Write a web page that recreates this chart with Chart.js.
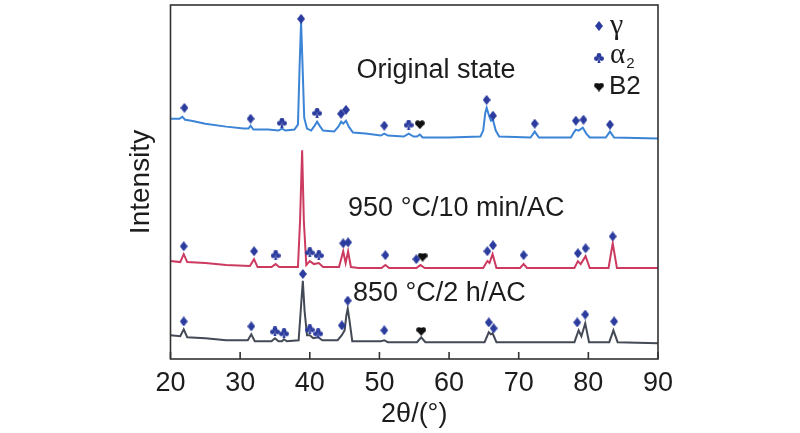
<!DOCTYPE html>
<html>
<head>
<meta charset="utf-8">
<script src="https://cdn.jsdelivr.net/npm/chart.js@4.4.1/dist/chart.umd.min.js"></script>
<style>
    html, body { margin: 0; padding: 0; background: #fff; }
    #xrd-chart { display: block; }
</style>
</head>
<body>
<canvas id="xrd-chart" width="800" height="433"></canvas>
<script>
// XRD patterns, intensity in arbitrary units (patterns already stacked)
const xTicks = [20, 30, 40, 50, 60, 70, 80, 90];

const originalTheta = [20, 21.3, 21.7, 22.1, 23, 25, 28, 30.5, 31.2, 31.5, 31.9, 34, 35.5, 36.0, 36.5, 37.8, 38.3, 38.55, 38.75, 38.95, 39.2, 39.6, 40.2, 40.7, 41.05, 41.4, 41.9, 43.5, 44.1, 44.5, 44.8, 45.2, 45.6, 46.2, 48, 50.2, 50.7, 51.2, 53.5, 54.2, 54.9, 55.4, 55.8, 56.2, 60, 64.5, 64.9, 65.2, 65.4, 65.7, 66.0, 66.3, 66.7, 67.2, 71.7, 72.3, 72.9, 77.5, 77.9, 78.2, 78.6, 79.2, 79.7, 80.2, 82.5, 83.1, 83.7, 90];
const originalIntensity = [243, 243, 245, 242, 241, 238, 235, 233, 233, 236, 232, 232, 231, 233, 231, 232, 237, 299, 341, 299, 244, 233, 231, 236, 240, 236, 231, 230, 235, 240, 238, 241, 235, 229, 228, 226, 228, 226, 225, 228, 225, 225, 227, 224, 224, 225, 231, 249, 254, 247, 241, 242, 231, 225, 224, 230, 224, 224, 229, 232, 231, 234, 228, 224, 224, 230, 224, 223];

const ac950Theta = [20, 21.4, 21.9, 22.4, 25, 28, 31.4, 32.0, 32.5, 34.5, 35.1, 35.6, 38.3, 38.6, 38.9, 39.15, 39.5, 40.0, 40.6, 41.3, 41.9, 44.2, 44.8, 45.15, 45.5, 45.9, 47, 50.3, 50.85, 51.4, 55.3, 55.9, 56.5, 64.9, 65.5, 65.8, 66.25, 66.8, 70.2, 70.7, 71.2, 78.0, 78.5, 78.9, 79.6, 80.2, 82.9, 83.5, 84.1, 90];
const ac950Intensity = [99, 98, 106, 98, 97, 95, 94, 101, 93, 93, 96, 93, 93, 139, 211, 139, 95, 99, 96, 97, 93, 93, 109, 97, 109, 93, 92, 92, 95, 92, 92, 95, 92, 92, 99, 97, 106, 92, 92, 96, 92, 92, 99, 96, 104, 92, 92, 117, 92, 92];

const ac850Theta = [20, 21.4, 21.9, 22.4, 25, 28, 31.1, 31.6, 32.1, 34.5, 35.0, 35.5, 36.0, 36.3, 36.7, 38.4, 38.7, 39.0, 39.25, 39.6, 40.0, 40.5, 41.2, 41.8, 44.0, 44.6, 45.0, 45.25, 45.45, 45.7, 46.1, 48, 50.2, 50.7, 51.2, 55.4, 56.0, 56.6, 65.1, 65.7, 66.0, 66.25, 66.8, 78.0, 78.6, 79.0, 79.55, 80.1, 83.0, 83.6, 84.2, 90];
const ac850Intensity = [24, 23, 30, 22, 21, 19, 19, 25, 18, 18, 21, 18, 18, 20, 18, 19, 49, 79, 49, 24, 24, 21, 22, 19, 19, 24, 29, 44, 51, 39, 18, 18, 18, 19, 17, 17, 22, 17, 17, 27, 25, 26, 17, 17, 29, 23, 36, 17, 17, 29, 17, 16];

// phase markers [2θ, height]
const originalGamma = [[22, 254], [31.5, 243], [38.75, 344], [44.5, 248], [45.2, 252], [50.7, 236], [65.4, 262], [66.3, 246], [72.3, 238], [78.2, 241], [79.3, 242], [83.1, 237]];
const originalAlpha2 = [[36.0, 239], [41.05, 249], [54.2, 237]];
const originalB2 = [[55.8, 237]];

const ac950Gamma = [[21.9, 114], [32.0, 109], [44.8, 117], [45.5, 118], [50.85, 105], [55.3, 101], [65.5, 109], [66.3, 115], [70.7, 105], [78.5, 107], [79.6, 112], [83.5, 124]];
const ac950Alpha2 = [[35.1, 105], [40.0, 108], [41.3, 105]];
const ac950B2 = [[56.2, 103]];

const ac850Gamma = [[21.9, 38], [31.6, 33], [39.0, 86], [44.6, 34], [45.45, 59], [50.7, 29], [65.7, 37], [66.4, 31], [78.4, 37], [79.55, 45], [83.7, 38]];
const ac850Alpha2 = [[35.0, 28], [36.3, 26], [40.0, 30], [41.2, 26]];
const ac850B2 = [[56.0, 28]];

const MARKER_BLUE = '#2b3c9e';
const TEXT_COLOR = '#1c1c1c';

// --- marker glyphs as small canvases (used as pointStyle) ---
function makeGlyph(w, h, paint) {
    const c = document.createElement('canvas');
    c.width = w;
    c.height = h;
    paint(c.getContext('2d'));
    return c;
}

const diamond = makeGlyph(8, 10, g => {
    g.fillStyle = MARKER_BLUE;
    g.beginPath();
    g.moveTo(4, 0); g.lineTo(8, 5); g.lineTo(4, 10); g.lineTo(0, 5);
    g.closePath();
    g.fill();
});

const club = makeGlyph(10, 10, g => {
    g.fillStyle = MARKER_BLUE;
    [[5, 2.5], [2.4, 5.6], [7.6, 5.6]].forEach(([cx, cy]) => {
        g.beginPath();
        g.arc(cx, cy, 2.4, 0, Math.PI * 2);
        g.fill();
    });
    g.beginPath();
    g.moveTo(5, 4.5); g.lineTo(3.4, 10); g.lineTo(6.6, 10);
    g.closePath();
    g.fill();
});

const heart = makeGlyph(10, 9, g => {
    g.fillStyle = '#111';
    g.beginPath();
    g.arc(2.8, 2.8, 2.6, 0, Math.PI * 2);
    g.arc(7.2, 2.8, 2.6, 0, Math.PI * 2);
    g.fill();
    g.beginPath();
    g.moveTo(0.3, 3.8); g.lineTo(9.7, 3.8); g.lineTo(5, 9);
    g.closePath();
    g.fill();
});

function toPoints(theta, intensity) {
    return theta.map((t, i) => ({x: t, y: intensity[i]}));
}

function pattern(label, theta, intensity, color) {
    return {
        label: label,
        data: toPoints(theta, intensity),
        borderColor: color,
        borderWidth: 2,
        pointRadius: 0,
        showLine: true,
        tension: 0,
        order: 2
    };
}

function markers(label, pairs, glyph) {
    return {
        label: label,
        data: pairs.map(([x, y]) => ({x, y})),
        pointStyle: glyph,
        showLine: false,
        order: 1
    };
}

// texts placed in data coordinates
const curveLabels = [
    {text: 'Original state', x: 46.7, y: 292},
    {text: '950 °C/10 min/AC', x: 45.5, y: 152},
    {text: '850 °C/2 h/AC', x: 46.2, y: 66}
];

const xrdDecor = {
    id: 'xrdDecor',
    afterDraw(chart) {
        const {ctx, chartArea: a, scales: {x, y}} = chart;
        ctx.save();

        // frame
        ctx.strokeStyle = '#333';
        ctx.lineWidth = 1.6;
        ctx.strokeRect(a.left, a.top, a.right - a.left, a.bottom - a.top);

        // inward ticks on the 2θ axis
        ctx.beginPath();
        x.ticks.forEach(t => {
            const px = x.getPixelForValue(t.value);
            ctx.moveTo(px, a.bottom);
            ctx.lineTo(px, a.bottom - 7);
        });
        ctx.stroke();

        // curve labels
        ctx.fillStyle = TEXT_COLOR;
        ctx.font = '27px "Liberation Sans", Arial, sans-serif';
        ctx.textBaseline = 'middle';
        ctx.textAlign = 'left';
        curveLabels.forEach(l => {
            ctx.fillText(l.text, x.getPixelForValue(l.x), y.getPixelForValue(l.y));
        });

        // phase legend
        const lx = 599, tx = 610;
        ctx.drawImage(diamond, lx - 4, 26 - 5);
        ctx.drawImage(club, lx - 5, 58 - 5);
        ctx.drawImage(heart, lx - 5, 87 - 4.5);
        ctx.font = '30px "Liberation Serif", "Times New Roman", serif';
        ctx.fillText('γ', tx, 26);
        ctx.font = '29px "Liberation Serif", "Times New Roman", serif';
        ctx.fillText('α', tx, 55);
        const aw = ctx.measureText('α').width;
        ctx.font = '15px "Liberation Sans", Arial, sans-serif';
        ctx.fillText('2', tx + aw + 1, 64);
        ctx.font = '26px "Liberation Sans", Arial, sans-serif';
        ctx.fillText('B2', tx - 1, 87);

        ctx.restore();
    }
};

const config = {
    type: 'scatter',
    data: {
        datasets: [
            pattern('Original state', originalTheta, originalIntensity, '#3b84d6'),
            pattern('950 °C/10 min/AC', ac950Theta, ac950Intensity, '#cc3a60'),
            pattern('850 °C/2 h/AC', ac850Theta, ac850Intensity, '#434955'),
            markers('γ', originalGamma, diamond),
            markers('α2', originalAlpha2, club),
            markers('B2', originalB2, heart),
            markers('γ', ac950Gamma, diamond),
            markers('α2', ac950Alpha2, club),
            markers('B2', ac950B2, heart),
            markers('γ', ac850Gamma, diamond),
            markers('α2', ac850Alpha2, club),
            markers('B2', ac850B2, heart)
        ]
    },
    options: {
        responsive: false,
        animation: false,
        layout: {padding: {left: 124, right: 142, top: 1, bottom: 0}},
        plugins: {
            legend: {display: false},
            tooltip: {enabled: false}
        },
        scales: {
            x: {
                type: 'linear',
                min: 20,
                max: 90,
                afterBuildTicks: scale => {
                    scale.ticks = xTicks.map(v => ({value: v}));
                },
                afterFit: scale => { scale.height = 74; },
                grid: {display: false},
                border: {display: false},
                ticks: {
                    padding: 0,
                    color: TEXT_COLOR,
                    font: {family: '"Liberation Sans", Arial, sans-serif', size: 27}
                },
                title: {
                    display: true,
                    text: '2θ/(°)',
                    color: TEXT_COLOR,
                    padding: {top: 0, bottom: 2},
                    font: {family: '"Liberation Sans", Arial, sans-serif', size: 27}
                }
            },
            y: {
                min: 0,
                max: 358,
                afterFit: scale => { scale.width = 46.5; },
                grid: {display: false},
                border: {display: false},
                ticks: {display: false},
                title: {
                    display: true,
                    text: 'Intensity',
                    color: TEXT_COLOR,
                    padding: 0,
                    font: {family: '"Liberation Sans", Arial, sans-serif', size: 28}
                }
            }
        }
    },
    plugins: [xrdDecor]
};

new Chart(document.getElementById('xrd-chart'), config);
</script>
</body>
</html>
